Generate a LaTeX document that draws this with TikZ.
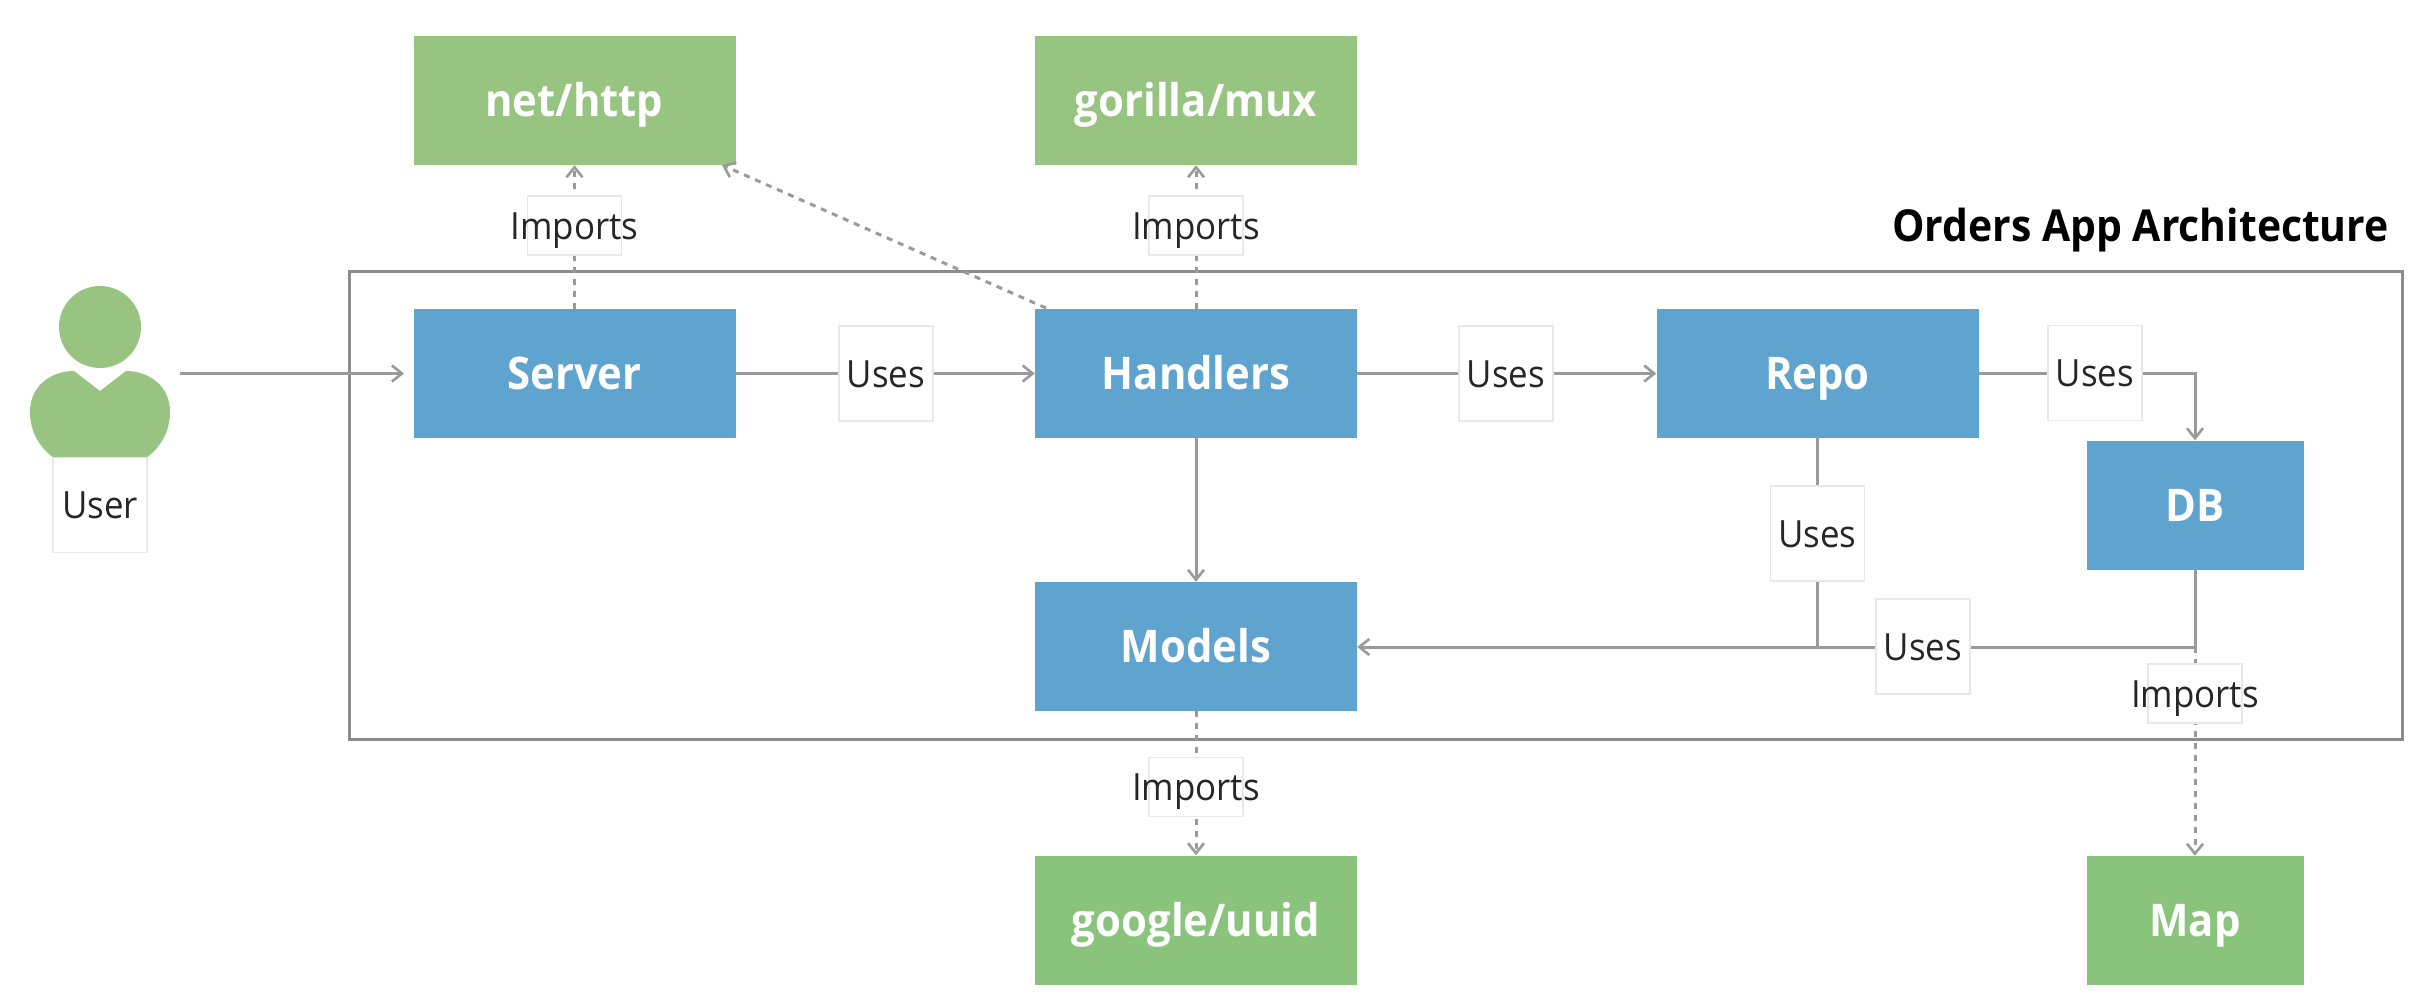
\documentclass[tikz,border=0pt]{standalone}
\usepackage{fontspec}
\setmainfont{Open Sans}[FakeStretch=0.93]
\usetikzlibrary{arrows.meta,positioning,calc}
\definecolor{boxblue}{HTML}{5FA3CF}
\definecolor{boxgreen}{HTML}{98C482}
\definecolor{boxgreenb}{HTML}{8AC47C}
\definecolor{wire}{HTML}{9A9A9A}
\definecolor{frameline}{HTML}{8C8C8C}
\definecolor{labeledge}{HTML}{E8E8E8}
\definecolor{labeltext}{HTML}{262626}
\newcommand{\tagt}[1]{\makebox[0pt]{#1}}
\tikzset{
  box/.style={rectangle,inner sep=0pt,text=white,font=\fontsize{45}{50}\selectfont\bfseries,minimum height=129pt,text height=32pt,text depth=0pt},
  wide/.style={box,minimum width=322pt},
  narrow/.style={box,minimum width=217pt},
  bluebox/.style={fill=boxblue},
  greenbox/.style={fill=boxgreen},
  greenboxb/.style={fill=boxgreenb},
  tag/.style={rectangle,draw=labeledge,line width=1.5pt,fill=white,inner sep=0pt,text=labeltext,font=\fontsize{37.5}{44}\selectfont,minimum width=94pt,text height=27pt,text depth=0pt},
  tall/.style={tag,minimum height=95pt},
  short/.style={tag,minimum height=59pt},
  wire/.style={draw=wire,line width=3pt},
  flow/.style={wire,-{Straight Barb[length=10pt,width=16pt,line width=2.6pt]}},
  dep/.style={flow,dash pattern=on 6pt off 6pt},
}
\begin{document}
\begin{tikzpicture}[x=1pt,y=-1pt]
\useasboundingbox (0,0) rectangle (2426,1006);
% frame
\node[draw=frameline,line width=3pt,rectangle,inner sep=0pt,minimum width=2053.5pt,minimum height=467.5pt] (frame) at (1375.75,505.25) {};
\node[anchor=east,inner sep=0pt,text=black,font=\fontsize{44}{50}\selectfont\bfseries,text height=32pt,text depth=0pt] (title) at (2389,225) {Orders App Architecture};
% main boxes
\node[wide,greenbox] (nethttp) at (574.5,100.5) {net/http};
\node[wide,greenbox] (mux) at (1196,100.5) {gorilla/mux};
\node[wide,bluebox] (server) at (574.5,373.5) {Server};
\node[wide,bluebox] (handlers) at (1196,373.5) {Handlers};
\node[wide,bluebox] (repo) at (1817.5,373.5) {Repo};
\node[narrow,bluebox] (db) at (2195,505) {DB};
\node[wide,bluebox] (models) at (1196,646.5) {Models};
\node[wide,greenboxb] (uuid) at (1196,920) {google/uuid};
\node[narrow,greenboxb] (map) at (2195,920.5) {Map};
% user
\node[circle,fill=boxgreen,inner sep=0pt,minimum size=82pt] (head) at (100,327) {};
\fill[boxgreen] (74,371) -- (100,391) -- (126,371)
  .. controls (148,371) and (170,385) .. (170,412)
  .. controls (170,432) and (160,448) .. (146,458)
  -- (54,458)
  .. controls (40,448) and (30,432) .. (30,412)
  .. controls (30,385) and (52,371) .. (74,371) -- cycle;
\coordinate (userout) at (180,373.5);
\coordinate (serverin) at (404,373.5);
\coordinate (hdlcorner) at (1046,308);
\coordinate (nethttpcorner) at (722,165);
\coordinate (junctionb) at (1817.5,647);
\coordinate (junctiona) at (2195,647);
\coordinate (dbturn) at (2195,373.5);
% connectors
\draw[flow] (userout) -- (serverin);
\draw[flow] (server) -- (handlers);
\draw[flow] (handlers) -- (repo);
\draw[flow] (repo.east) -- (dbturn) -- (db.north);
\draw[flow] (handlers) -- (models);
\draw[wire] (repo.south) -- (junctionb);
\draw[wire] (db.south) -- (junctiona);
\draw[flow] (junctiona) -- (models.east |- junctiona);
\draw[dep] (server.north) -- (nethttp.south);
\draw[dep] (handlers.north) -- (mux.south);
\draw[dep] (hdlcorner) -- (nethttpcorner);
\draw[dep] (models.south) -- (uuid.north);
\draw[dep] (junctiona) -- (map.north);
% labels
\node[tall] (luser) at (100,505) {\tagt{User}};
\node[short] (limp1) at (574.5,225.5) {\tagt{Imports}};
\node[short] (limp2) at (1196,225.5) {\tagt{Imports}};
\node[short] (limp3) at (1196,787) {\tagt{Imports}};
\node[short] (limp4) at (2195,693.5) {\tagt{Imports}};
\node[tall] (luse1) at (886,373.5) {\tagt{Uses}};
\node[tall] (luse2) at (1506,373.5) {\tagt{Uses}};
\node[tall] (luse3) at (2095,373) {\tagt{Uses}};
\node[tall] (luse4) at (1817.5,533.5) {\tagt{Uses}};
\node[tall] (luse5) at (1923,646.5) {\tagt{Uses}};
\end{tikzpicture}
\end{document}
